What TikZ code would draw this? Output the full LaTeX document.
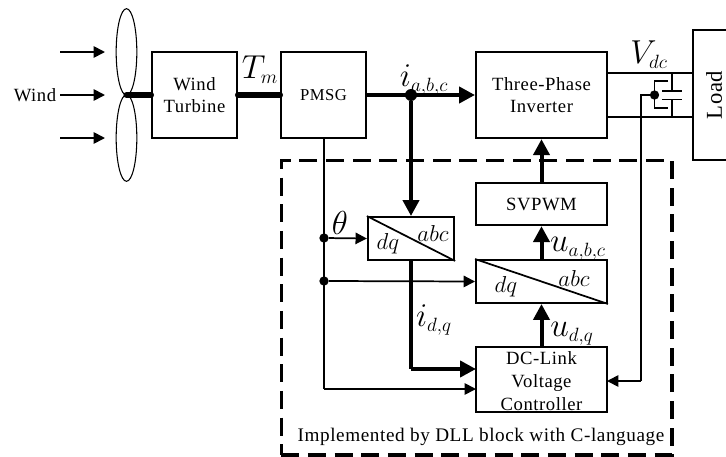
\documentclass[tikz,border=0pt]{standalone}
\usepackage{fontspec}
\setmainfont[LetterSpace=3]{Liberation Serif}
\DeclareMathSizes{23}{23}{15}{11}
\DeclareMathSizes{14}{14}{10}{8}
\usetikzlibrary{arrows.meta,shapes.geometric}
\begin{document}
\begin{tikzpicture}
    [
        x=0.75pt, y=-0.75pt,
        block/.style={rectangle, draw, line width=1.7pt, inner sep=0pt, align=center, font=\fontsize{14}{17}\selectfont,},
        blade/.style={ellipse, draw, line width=0.8pt, inner sep=0pt, minimum width=15.5pt, minimum height=65pt,},
        dot/.style={circle, fill, inner sep=0pt, minimum size=7pt,},
        wire/.style={line width=1.3pt, -{Triangle[length=8.5pt,width=8.5pt]},},
        line/.style={line width=1.3pt,},
        power/.style={line width=3pt, -{Triangle[length=12pt,width=12pt]},},
        shaft/.style={line width=4.5pt, line cap=round,},
        label/.style={inner sep=0pt, font=\fontsize{14}{17}\selectfont,},
        park/.style={inner sep=0pt, font=\fontsize{16}{19}\selectfont,},
        biglabel/.style={inner sep=0pt, font=\fontsize{23}{27}\selectfont,},
    ]
    \useasboundingbox (0,0) rectangle (726,457);

    % dashed frame
    \node (frame) at (476.5,307.5) [draw, line width=2.5pt, dash pattern=on 13.5pt off 6.5pt, minimum width=293pt, minimum height=221pt, inner sep=0pt] {};

    % wind side
    \node (bladea) at (126.5,52)  [blade] {};
    \node (bladeb) at (126.5,138) [blade] {};
    \coordinate (hub) at (126.5,95);
    \coordinate (wa) at (60,52);
    \coordinate (wb) at (60,95);
    \coordinate (wc) at (60,138);
    \coordinate (wd) at (105,52);
    \coordinate (we) at (105,95);
    \coordinate (wf) at (105,138);
    \node (wind) at (35,95) [label] {Wind};

    % blocks
    \node (turbine) at (194.5,95)  [block, minimum width=63.5pt, minimum height=64.5pt] {Wind\\Turbine};
    \node (pmsg)    at (323.5,95)  [block, minimum width=63.5pt, minimum height=64.5pt, font=\fontsize{12.5}{15}\selectfont] {PMSG};
    \node (inv)     at (541.5,95)  [block, minimum width=98pt, minimum height=64.5pt] {Three-Phase\\Inverter};
    \node (svpwm)   at (541.5,204) [block, minimum width=98pt, minimum height=31.5pt] {SVPWM};
    \node (parka)   at (411,238.5) [block, minimum width=64.5pt, minimum height=32pt] {};
    \node (parkb)   at (541.5,281.5) [block, minimum width=98pt, minimum height=32pt] {};
    \node (ctrl)    at (541.5,379.5) [block, minimum width=98pt, minimum height=48.5pt] {};
    \node (ctrltxt) at (541.5,381) [label, align=center] {DC-Link\\Voltage\\Controller};
    \node (dqa)  at (388,244)  [park] {$dq$};
    \node (abca) at (433,233)  [park] {$abc$};
    \node (dqb)  at (506,287)  [park] {$dq$};
    \node (abcb) at (574,278)  [park] {$abc$};
    \draw [line width=1.3pt] (parka.north west) -- (parka.south east);
    \draw [line width=1.3pt] (parkb.north west) -- (parkb.south east);

    % load and dc link
    \coordinate (lta) at (730,30);
    \coordinate (ltb) at (693,30);
    \coordinate (lba) at (693,160);
    \coordinate (lbb) at (730,160);
    \draw [line width=1.7pt] (lta) -- (ltb) -- (lba) -- (lbb);
    \node (load) at (714,95) [label, rotate=90, font=\fontsize{17}{20}\selectfont] {Load};
    \coordinate (dca) at (606,73);
    \coordinate (dcb) at (693,73);
    \coordinate (dcc) at (606,117);
    \coordinate (dcd) at (693,117);
    \draw [line] (dca) -- (dcb);
    \draw [line] (dcc) -- (dcd);
    \coordinate (capa) at (672,73);
    \coordinate (capb) at (672,91);
    \coordinate (capc) at (672,99.5);
    \coordinate (capd) at (672,117);
    \coordinate (pla) at (662,91);
    \coordinate (plb) at (682,91);
    \coordinate (plc) at (662,99.5);
    \coordinate (pld) at (682,99.5);
    \draw [line] (capa) -- (capb);
    \draw [line] (capc) -- (capd);
    \draw [line] (pla) -- (plb);
    \draw [line] (plc) -- (pld);
    \coordinate (bra) at (668,81);
    \coordinate (brb) at (654.5,81);
    \coordinate (brc) at (654.5,108);
    \coordinate (brd) at (668,108);
    \draw [line] (bra) -- (brb) -- (brc) -- (brd);

    % junctions
    \node (jcur)  at (411,95)    [dot, minimum size=9pt] {};
    \node (jthe)  at (324,238)   [dot] {};
    \node (jrot)  at (324,281)   [dot] {};
    \node (jsens) at (654.5,95)  [dot] {};
    \coordinate (bendi) at (411,369);
    \coordinate (bendr) at (324,389);
    \coordinate (bendv) at (641,381);
    \coordinate (bendt) at (641,95);
    \coordinate (ctrli) at (476,369);
    \coordinate (ctrlr) at (476,389);
    \coordinate (ctrlv) at (607,381);
    \coordinate (pout) at (324,138);

    % connectors
    \draw [wire] (wa) -- (wd);
    \draw [wire] (wb) -- (we);
    \draw [wire] (wc) -- (wf);
    \draw [shaft] (hub) -- (turbine.west);
    \draw [shaft] (turbine.east) -- (pmsg.west);
    \draw [power] (pmsg.east) -- (inv.west);
    \draw [power] (jcur) -- (parka.north);
    \draw [line width=3pt] (parka.south) -- (bendi);
    \draw [power] (bendi) -- (ctrli);
    \draw [power] (svpwm.north) -- (inv.south);
    \draw [power] (parkb.north) -- (svpwm.south);
    \draw [power] (ctrl.north) -- (parkb.south);
    \draw [line] (pout) -- (bendr);
    \draw [wire] (bendr) -- (ctrlr);
    \draw [wire] (jthe) -- (parka.west);
    \draw [wire] (jrot) -- (parkb.west);
    \draw [line] (jsens) -- (bendt) -- (bendv);
    \draw [wire] (bendv) -- (ctrlv);

    % labels
    \node (tm)   at (260,70)   [biglabel] {$T_m$};
    \node (iabc) at (424,80)   [biglabel] {$i_{a,b,c}$};
    \node (vdc)  at (649,55)   [biglabel] {$V_{dc}$};
    \node (the)  at (340,223)  [biglabel] {$\theta$};
    \node (idq)  at (434,320)  [biglabel] {$i_{d,q}$};
    \node (uabc) at (578,249)  [biglabel] {$u_{a,b,c}$};
    \node (udq)  at (572,334)  [biglabel] {$u_{d,q}$};
    \node (note) at (481,437)  [label, font=\fontsize{14.4}{17}\selectfont] {Implemented by DLL block with C-language};

\end{tikzpicture}
\end{document}
